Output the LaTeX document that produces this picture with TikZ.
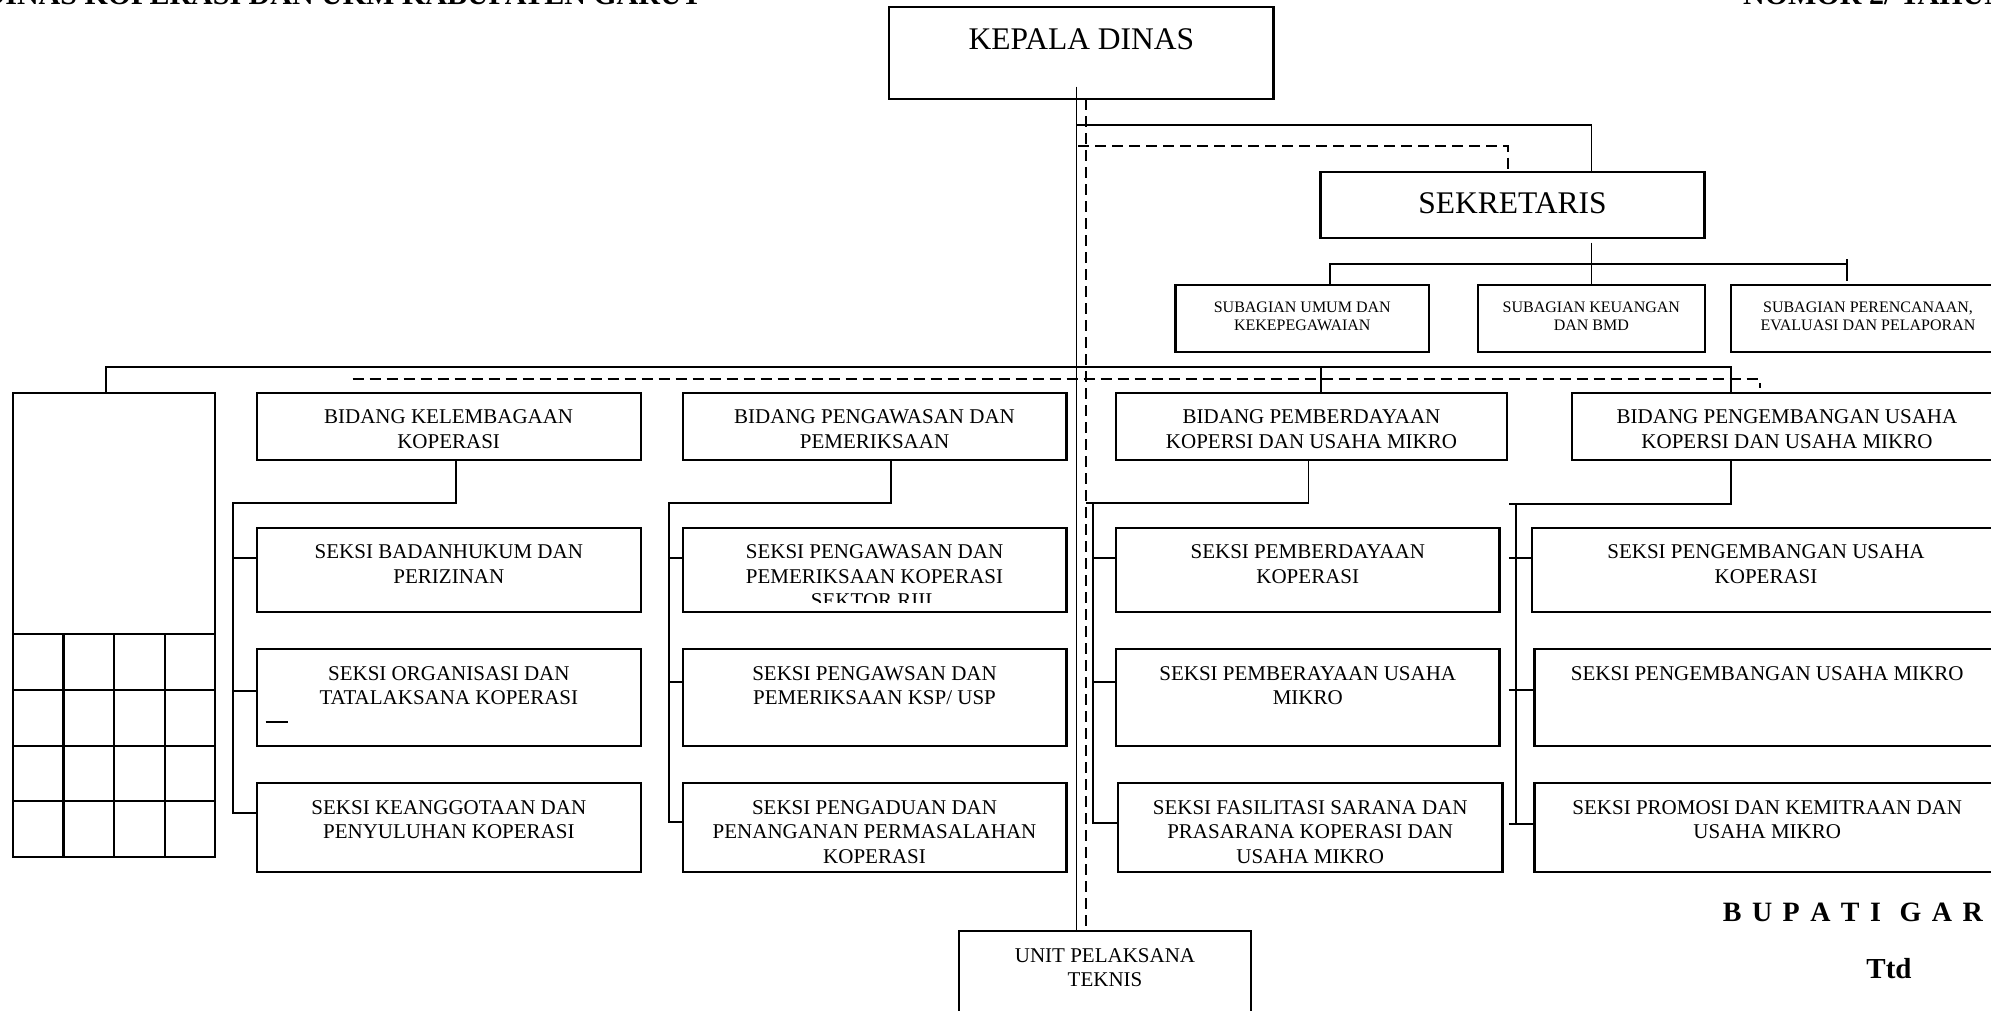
\documentclass[tikz,border=0pt]{standalone}
\usepackage{fontspec}
\setmainfont{Liberation Serif}
\usetikzlibrary{fit}
\newcommand\fbig{\fontsize{31.5pt}{36pt}\selectfont}
\newcommand\fmed{\fontsize{21pt}{24.5pt}\selectfont}
\newcommand\fsml{\fontsize{16pt}{18.4pt}\selectfont}
\newcommand\fsig{\fontsize{28pt}{32pt}\selectfont\bfseries}
\newcommand\fttd{\fontsize{29pt}{32pt}\selectfont\bfseries}
\newcommand\fhead{\fontsize{30pt}{34pt}\selectfont\bfseries}
\newcommand\bgap{\hspace*{10.45pt}}
\newcommand\mkbox[5]{\coordinate (#1-a) at (#2,#3); \coordinate (#1-b) at (#4,#5); \node[box, fit=(#1-a)(#1-b)] (#1) {};}
\newcommand\mktxt[5]{\node[txt, font=#2] (#1) at (#3,#4) {#5};}
\tikzset{
  box/.style={draw, line width=2.2pt, rectangle, inner sep=0pt, outer sep=0pt},
  txt/.style={inner sep=0pt, outer sep=0pt, align=center, anchor=north},
  conn/.style={line width=1.9pt},
  gridl/.style={line width=2.2pt},
  dsh/.style={line width=2.3pt, dash pattern=on 11pt off 6pt},
}
\begin{document}
\begin{tikzpicture}[x=1pt,y=-1pt]
\useasboundingbox (0,0) rectangle (1991,1010);
\fill[white] (0,0) rectangle (1991,1010);
\clip (0,0) rectangle (1991,1010);

% header texts (cut at top edge)
\node[anchor=base east, inner sep=0pt, font=\fhead] (hl) at (702,4) {DINAS KOPERASI DAN UKM KABUPATEN GARUT};
\node[anchor=base west, inner sep=0pt, font=\fhead] (hr) at (1743,4) {NOMOR 2/ TAHUN};

% boxes
\mkbox{kd}{889.3}{7.3}{1273.5}{99}
\mkbox{sek}{1320.4}{171.7}{1704.5}{238.3}
\mkbox{sa}{1175.5}{285}{1429}{352}
\mkbox{sb}{1477.7}{285}{1705}{352}
\mkbox{sc}{1731}{285}{2005}{352}
\mkbox{lf}{13}{392.7}{215}{857}
\mkbox{ba}{256.7}{392.7}{640.6}{460}
\mkbox{bb}{682.6}{392.7}{1066.5}{460}
\mkbox{bc}{1116}{393.3}{1507}{460}
\mkbox{bd}{1572}{393.3}{2002}{460}
\mkbox{a1}{256.7}{527.7}{641}{611.7}
\mkbox{a2}{256.7}{649}{641}{745.7}
\mkbox{a3}{256.7}{783.3}{641}{872}
\mkbox{b1}{682.6}{527.7}{1066.5}{611.7}
\mkbox{b2}{682.6}{649}{1066.5}{745.7}
\mkbox{b3}{682.6}{783.3}{1066.5}{872}
\mkbox{c1}{1116}{527.7}{1499.5}{611.7}
\mkbox{c2}{1116}{649}{1499.5}{745.7}
\mkbox{c3}{1118}{783.3}{1502.4}{872}
\mkbox{d1}{1532}{527.7}{2002}{611.7}
\mkbox{d2}{1534.5}{649}{2002}{745.7}
\mkbox{d3}{1534.5}{783.3}{2002}{872}
\mkbox{unit}{959}{931}{1251}{1015}

% grid in left box
\foreach \yy in {634,690,746,801} \draw[gridl] (lf.west |- 0,\yy) -- (lf.east |- 0,\yy);
\foreach \xx in {63.4,113.8,164.7} \draw[gridl] (\xx,634) -- (\xx,0 |- lf.south);

% texts
\mktxt{kdt}{\fbig}{1081.4}{28.2}{KEPALA DINAS}
\mktxt{sekt}{\fbig}{1512.5}{192.7}{SEKRETARIS}
\mktxt{sat}{\fsml}{1302.25}{301.5}{SUBAGIAN UMUM DAN\\KEKEPEGAWAIAN}
\mktxt{sbt}{\fsml}{1591.35}{301.5}{SUBAGIAN KEUANGAN\\DAN BMD}
\mktxt{sct}{\fsml}{1868}{301.5}{SUBAGIAN PERENCANAAN,\\EVALUASI DAN PELAPORAN}
\mktxt{bat}{\fmed}{448.65}{409.8}{BIDANG KELEMBAGAAN\\KOPERASI}
\mktxt{bbt}{\fmed}{874.55}{409.8}{BIDANG PENGAWASAN DAN\\PEMERIKSAAN}
\mktxt{bct}{\fmed}{1311.5}{409.8}{BIDANG PEMBERDAYAAN\\KOPERSI DAN USAHA MIKRO}
\mktxt{bdt}{\fmed}{1787}{409.8}{BIDANG PENGEMBANGAN USAHA\\KOPERSI DAN USAHA MIKRO}
\mktxt{a1t}{\fmed}{448.85}{544.8}{SEKSI BADANHUKUM DAN\\PERIZINAN}
\mktxt{a2t}{\fmed}{448.85}{666.1}{SEKSI ORGANISASI DAN\\TATALAKSANA KOPERASI}
\mktxt{a3t}{\fmed}{448.85}{800.4}{SEKSI KEANGGOTAAN DAN\\PENYULUHAN KOPERASI}
\begin{scope}
\clip (682.6,527.7) rectangle (1066.5,602.3);
\mktxt{b1t}{\fmed}{874.55}{544.8}{SEKSI PENGAWASAN DAN\\PEMERIKSAAN KOPERASI\\SEKTOR RIIL}
\end{scope}
\mktxt{b2t}{\fmed}{874.55}{666.1}{SEKSI PENGAWSAN DAN\\PEMERIKSAAN KSP/ USP}
\mktxt{b3t}{\fmed}{874.55}{800.4}{SEKSI PENGADUAN DAN\\PENANGANAN PERMASALAHAN\\KOPERASI}
\mktxt{c1t}{\fmed}{1307.75}{544.8}{SEKSI PEMBERDAYAAN\\KOPERASI}
\mktxt{c2t}{\fmed}{1307.75}{666.1}{SEKSI PEMBERAYAAN USAHA\\MIKRO}
\mktxt{c3t}{\fmed}{1310.2}{800.4}{SEKSI FASILITASI SARANA DAN\\PRASARANA KOPERASI DAN\\USAHA MIKRO}
\mktxt{d1t}{\fmed}{1766}{544.8}{SEKSI PENGEMBANGAN USAHA\\KOPERASI}
\mktxt{d2t}{\fmed}{1767.25}{666.1}{SEKSI PENGEMBANGAN USAHA MIKRO}
\mktxt{d3t}{\fmed}{1767.25}{800.4}{SEKSI PROMOSI DAN KEMITRAAN DAN\\USAHA MIKRO}
\mktxt{unitt}{\fmed}{1105}{948.1}{UNIT PELAKSANA\\TEKNIS}
\draw[conn] (265.6,722) -- (288,722);

% signature
\node[anchor=base west, inner sep=0pt, font=\fsig] (bup) at (1722.7,921.7) {B\bgap U\bgap P\bgap A\bgap T\bgap I\hspace*{18.8pt}G\bgap A\bgap R\bgap U\bgap T};
\node[anchor=base, inner sep=0pt, font=\fttd] (ttd) at (1889,978.3) {Ttd};

% main connectors
\draw[conn] (1076.5,86.7) -- (1076.5,0 |- unit.north);
\draw[dsh] (1085.7,0 |- kd.south) -- (1085.7,0 |- unit.north);
\draw[conn] (1076.5,125) -- (1591.5,125) -- (1591.5,0 |- sek.north);
\draw[dsh] (1078,145.7) -- (1508,145.7) -- (1508,0 |- sek.north);
\draw[conn] (1591.5,242.7) -- (1591.5,0 |- sb.north);
\draw[conn] (1329.6,0 |- sa.north) -- (1329.6,264.3) -- (1846.7,264.3);
\draw[conn] (1846.7,259.3) -- (1846.7,280.7);
\draw[conn] (105.8,0 |- lf.north) -- (105.8,366.7) -- (1730.8,366.7) -- (1730.8,0 |- bd.north);
\draw[conn] (1321,366.7) -- (1321,0 |- bc.north);
\draw[dsh] (352.7,379.3) -- (1760,379.3) -- (1760,388);

% column 1
\draw[conn] (455.8,0 |- ba.south) -- (455.8,503.3) -- (233,503.3) -- (233,813.3) -- (a3.west |- 0,813.3);
\draw[conn] (233,558.3) -- (a1.west |- 0,558.3);
\draw[conn] (233,690.7) -- (a2.west |- 0,690.7);
% column 2
\draw[conn] (891,0 |- bb.south) -- (891,503.3) -- (668.75,503.3) -- (668.75,822.3) -- (b3.west |- 0,822.3);
\draw[conn] (668.75,558.3) -- (b1.west |- 0,558.3);
\draw[conn] (668.75,681.7) -- (b2.west |- 0,681.7);
% column 3
\draw[conn] (1308.5,0 |- bc.south) -- (1308.5,503.3) -- (1085.8,503.3);
\draw[conn] (1092.8,503.3) -- (1092.8,823.3) -- (c3.west |- 0,823.3);
\draw[conn] (1092.8,558.3) -- (c1.west |- 0,558.3);
\draw[conn] (1092.8,681.7) -- (c2.west |- 0,681.7);
% column 4
\draw[conn] (1730.8,0 |- bd.south) -- (1730.8,504.3) -- (1508.8,504.3);
\draw[conn] (1515.8,504.3) -- (1515.8,824);
\draw[conn] (1508.8,558.3) -- (d1.west |- 0,558.3);
\draw[conn] (1508.8,690) -- (d2.west |- 0,690);
\draw[conn] (1508.8,824) -- (d3.west |- 0,824);
\end{tikzpicture}
\end{document}
